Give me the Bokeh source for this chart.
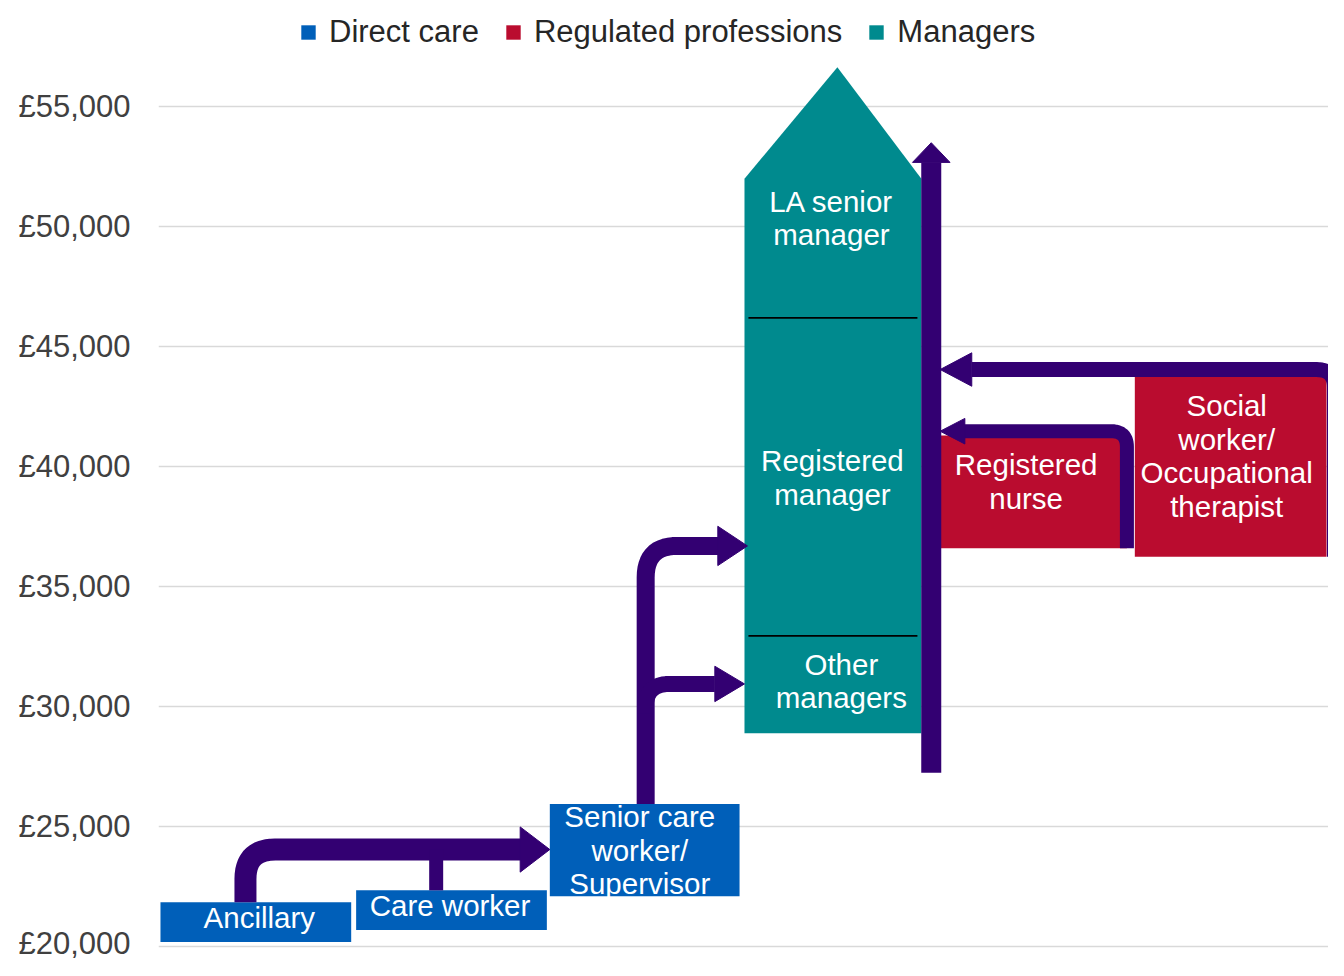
import numpy as np
from bokeh.plotting import figure
from bokeh.models import Range1d, FixedTicker, Legend, LegendItem
from bokeh.core.properties import value
from bokeh.embed import file_html
from bokeh.resources import INLINE

# ---------------- data ----------------
groups = ["Direct care", "Regulated professions", "Managers"]

direct_roles = ["Ancillary", "Care worker", "Senior care\nworker/\nSupervisor"]
direct_low = [20200, 20700, 22100]
direct_high = [21850, 22350, 25950]

reg_roles = ["Registered\nnurse", "Social\nworker/\nOccupational\ntherapist"]
reg_low = [36600, 36250]
reg_high = [41300, 43750]

mgr_roles = ["Other\nmanagers", "Registered\nmanager", "LA senior\nmanager"]
mgr_bounds = [28900, 32950, 46200, 52000]
mgr_peak = 56650

ticks = [20000, 25000, 30000, 35000, 40000, 45000, 50000, 55000]
tick_labels = ["£20,000", "£25,000", "£30,000", "£35,000", "£40,000", "£45,000", "£50,000", "£55,000"]

# progression arrow levels (salary)
anc_to_senior = 24050
senior_to_other = 30950
senior_to_regmgr = 36700
nurse_to_mgr = 41480
social_to_mgr = 44050
career_low, career_high = 27250, 53500

# ---------------- layout / style ----------------
BLUE, RED, TEAL, PURPLE = "#005FB9", "#BA0C2F", "#008A8E", "#330072"
FONT = "Liberation Sans"
direct_x = [(162, 355), (360, 553), (556, 748)]
direct_lab = [(262, 21230), (455, 21721), (647, 24016)]
mgr_x = (753, 932)
mgr_peak_x = 847
mgr_lab = [(851, 31066), (842, 39549), (841, 50369)]
reg_x = [(950, 1140), (1148, 1342)]
reg_lab = [(1038, 39385), (1241, 40451)]
career_x = 942
LINE_STEP = 33.5  # px between label lines

PPY = 122.0 / 5000.0  # px per pound (reference scale)
Y_TOP = 20000 + 962 / PPY
Y_BOT = Y_TOP - 976 / PPY

p = figure(width=1328, height=960, output_backend="svg", toolbar_location=None,
           x_range=Range1d(160, 1344), y_range=Range1d(Y_BOT, Y_TOP),
           x_axis_location=None, min_border_left=158, min_border_right=0,
           min_border_top=0, min_border_bottom=0)
p.outline_line_color = None
p.xgrid.grid_line_color = None
p.ygrid.grid_line_color = "#D9D9D9"
p.ygrid.grid_line_width = 1.5
p.yaxis.ticker = FixedTicker(ticks=ticks)
p.yaxis.major_label_overrides = {t: l for t, l in zip(ticks, tick_labels)}
p.yaxis.axis_line_color = None
p.yaxis.major_tick_line_color = None
p.yaxis.minor_tick_line_color = None
p.yaxis.major_label_text_font = FONT
p.yaxis.major_label_text_font_size = "31px"
p.yaxis.major_label_text_color = "#404040"
p.yaxis.major_label_standoff = 22

# boxes
r_direct = p.quad(left=[a for a, b in direct_x], right=[b for a, b in direct_x],
                  bottom=direct_low, top=direct_high, fill_color=BLUE, line_color=None)
r_reg = p.quad(left=[a for a, b in reg_x], right=[b for a, b in reg_x],
               bottom=reg_low, top=reg_high, fill_color=RED, line_color=None)
r_mgr = p.patch(x=[mgr_x[0], mgr_x[1], mgr_x[1], mgr_peak_x, mgr_x[0]],
                y=[mgr_bounds[0], mgr_bounds[0], mgr_bounds[-1], mgr_peak, mgr_bounds[-1]],
                fill_color=TEAL, line_color=None)
p.segment(x0=[mgr_x[0] + 4] * 2, x1=[mgr_x[1] - 4] * 2, y0=mgr_bounds[1:3], y1=mgr_bounds[1:3],
          line_color="black", line_width=1.8)


def rounded(pts, r, n=14):
    """pts in (x px, salary); corners rounded with radius r px"""
    P = [np.array([x, v * PPY]) for x, v in pts]
    out = [P[0]]
    for i in range(1, len(P) - 1):
        A, B, C = P[i - 1], P[i], P[i + 1]
        d1 = (B - A) / np.linalg.norm(B - A)
        d2 = (C - B) / np.linalg.norm(C - B)
        S, E = B - d1 * r, B + d2 * r
        for t in np.linspace(0, 1, n):
            out.append((1 - t) ** 2 * S + 2 * (1 - t) * t * B + t ** 2 * E)
    out.append(P[-1])
    xs = [q[0] for q in out]
    ys = [q[1] / PPY for q in out]
    return xs, ys


def head(tip_x, tip_v, direction, length, half):
    """horizontal (+1 right / -1 left) or vertical ('up') arrowhead, px sizes"""
    if direction == "up":
        return ([tip_x - half, tip_x + half, tip_x],
                [tip_v - length / PPY, tip_v - length / PPY, tip_v])
    bx = tip_x - direction * length
    return ([bx, bx, tip_x], [tip_v - half / PPY, tip_v + half / PPY, tip_v])


def arrow_line(xs, ys, w):
    p.line(xs, ys, line_color=PURPLE, line_width=w, line_cap="butt", line_join="round")


def arrow_head(hx, hy):
    p.patch(hx, hy, fill_color=PURPLE, line_color=PURPLE, line_width=1)


# ancillary -> senior
xs, ys = rounded([(248, direct_high[0]), (248, anc_to_senior), (530, anc_to_senior)], 30)
arrow_line(xs, ys, 22)
arrow_head(*head(direct_x[2][0], anc_to_senior, 1, 30, 23))
# care worker stub
arrow_line([441, 441], [direct_high[1], anc_to_senior], 14)

# senior -> registered manager / other managers
xs, ys = rounded([(653, direct_high[2]), (653, senior_to_regmgr), (727, senior_to_regmgr)], 32)
arrow_line(xs, ys, 18)
arrow_head(*head(mgr_x[0] + 3, senior_to_regmgr, 1, 30, 20))
xs, ys = rounded([(653, senior_to_other - 30 / PPY), (653, senior_to_other), (723, senior_to_other)], 24)
arrow_line(xs, ys, 16)
arrow_head(*head(mgr_x[0], senior_to_other, 1, 30, 18))

# career progression arrow
arrow_line([career_x, career_x], [career_low, career_high - 20 / PPY], 20)
arrow_head(*head(career_x, career_high, "up", 20, 19))

# nurse -> managers
xs, ys = rounded([(1140, reg_low[0]), (1140, nurse_to_mgr), (975, nurse_to_mgr)], 16)
arrow_line(xs, ys, 14)
arrow_head(*head(reg_x[0][0] + 1, nurse_to_mgr, -1, 25, 13))

# social -> managers
xs, ys = rounded([(1350, reg_low[1]), (1350, social_to_mgr), (983, social_to_mgr)], 18)
arrow_line(xs, ys, 15)
arrow_head(*head(reg_x[0][0] + 1, social_to_mgr, -1, 32, 17))

# labels: one text glyph entry per line, centred on the label anchor
lab_x, lab_y, lab_t, lab_off = [], [], [], []
for (x, y), t in zip(direct_lab + mgr_lab + reg_lab, direct_roles + mgr_roles + reg_roles):
    lines = t.split("\n")
    n = len(lines)
    for i, ln in enumerate(lines):
        lab_x.append(x)
        lab_y.append(y)
        lab_t.append(ln)
        lab_off.append((i - (n - 1) / 2) * LINE_STEP)
p.text(x=lab_x, y=lab_y, text=lab_t, y_offset=lab_off, text_align="center", text_baseline="middle",
       text_font=value(FONT), text_font_size="29.5px", text_color="white")

legend = Legend(items=[LegendItem(label=groups[0], renderers=[r_direct]),
                       LegendItem(label=groups[1], renderers=[r_reg]),
                       LegendItem(label=groups[2], renderers=[r_mgr])],
                orientation="horizontal", location=(141, 910),
                label_text_font=FONT, label_text_font_size="31px", label_text_color="#262626",
                glyph_width=18, glyph_height=18, label_standoff=12, spacing=25,
                padding=0, margin=0, label_height=36,
                background_fill_alpha=0, border_line_alpha=0)
p.add_layout(legend)

open("out.html", "w").write(file_html(p, INLINE))
